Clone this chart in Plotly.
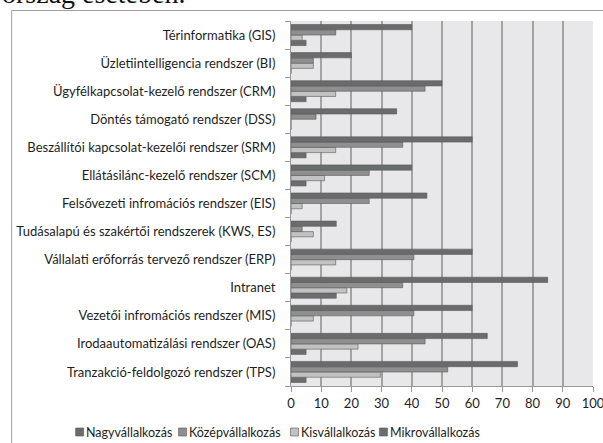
import plotly.graph_objects as go

# Categories listed bottom-to-top (Plotly category axis order)
categories = [
    "Tranzakció-feldolgozó rendszer (TPS)",
    "Irodaautomatizálási rendszer (OAS)",
    "Vezetői infromációs rendszer (MIS)",
    "Intranet",
    "Vállalati erőforrás tervező rendszer (ERP)",
    "Tudásalapú és szakértői rendszerek (KWS, ES)",
    "Felsővezeti infromációs rendszer (EIS)",
    "Ellátásilánc-kezelő rendszer (SCM)",
    "Beszállítói kapcsolat-kezelői rendszer (SRM)",
    "Döntés támogató rendszer (DSS)",
    "Ügyfélkapcsolat-kezelő rendszer (CRM)",
    "Üzletiintelligencia rendszer (BI)",
    "Térinformatika (GIS)",
]

nagy = [75, 65, 60, 85, 60, 15, 45, 40, 60, 35, 50, 20, 40]
kozep = [51.9, 44.4, 40.7, 37.0, 40.7, 3.7, 25.9, 25.9, 37.0, 8.3, 44.4, 7.4, 14.8]
kis = [29.6, 22.2, 7.4, 18.5, 14.8, 7.4, 3.7, 11.1, 14.8, 0, 14.8, 7.4, 3.7]
mikro = [5, 5, 0, 15, 0, 0, 0, 5, 5, 0, 5, 0, 5]

x_ticks = [0, 10, 20, 30, 40, 50, 60, 70, 80, 90, 100]

legend_names = ["Nagyvállalkozás", "Középvállalkozás", "Kisvállalkozás", "Mikrovállalkozás"]
colors = {"Nagyvállalkozás": "#6a6b6d", "Középvállalkozás": "#8f8f8f",
          "Kisvállalkozás": "#c2c2c2", "Mikrovállalkozás": "#6c6d70"}
values = {"Nagyvállalkozás": nagy, "Középvállalkozás": kozep,
          "Kisvállalkozás": kis, "Mikrovállalkozás": mikro}

FONT = "Lato"
TXT = "#1e1e1e"

fig = go.Figure()
# add in reverse so that Nagyvállalkozás sits at the top of each group
for name in reversed(legend_names):
    fig.add_trace(go.Bar(
        y=categories, x=values[name], name=name, orientation="h",
        marker=dict(color=colors[name], line=dict(color="#5a5a5a", width=0.6)),
        showlegend=False,
    ))

W, H = 603, 443
L, R, T, B = 290.5, 10.3, 21, 57
pw = W - L - R
ph = H - T - B

def px_x(px):
    return (px - L) / pw

def px_y(py):
    return 1 - (py - T) / ph

shapes = [dict(
    type="rect", xref="paper", yref="paper",
    x0=px_x(11), x1=px_x(640), y0=px_y(520), y1=px_y(10.5),
    line=dict(color="#a0a0a0", width=1), fillcolor="rgba(0,0,0,0)",
    layer="below",
)]
annotations = [dict(
    text="ország esetében.", xref="paper", yref="paper",
    x=px_x(-1), y=px_y(11.5), xanchor="left", yanchor="bottom",
    showarrow=False,
    font=dict(family="Liberation Serif", size=28, color="#111111"),
)]

# custom legend (single row like the reference)
legend_x = [75, 178, 290, 379]
leg_y = 432
for name, lx in zip(legend_names, legend_x):
    shapes.append(dict(
        type="rect", xref="paper", yref="paper",
        x0=px_x(lx), x1=px_x(lx + 8), y0=px_y(leg_y + 4), y1=px_y(leg_y - 4),
        line=dict(color="#555555", width=0.6), fillcolor=colors[name],
    ))
    annotations.append(dict(
        text=name, xref="paper", yref="paper",
        x=px_x(lx + 8.5), y=px_y(leg_y), xanchor="left", yanchor="middle",
        showarrow=False, font=dict(family=FONT, size=12.5, color=TXT),
    ))

fig.update_layout(
    width=W, height=H,
    margin=dict(l=L, r=R, t=T, b=B, pad=0, autoexpand=False),
    paper_bgcolor="white",
    plot_bgcolor="#e8e8ea",
    barmode="group",
    bargap=0.25,
    bargroupgap=0,
    font=dict(family=FONT, size=13, color=TXT),
    showlegend=False,
    xaxis=dict(
        range=[0, 100], tickvals=x_ticks, ticktext=[str(v) for v in x_ticks],
        showgrid=True, gridcolor="#a3a3a3", gridwidth=1.5,
        showline=True, linecolor="#9a9a9a", linewidth=1,
        ticks="outside", ticklen=5, tickcolor="#9a9a9a",
        zeroline=False, fixedrange=True, automargin=False,
        ticklabeloverflow="allow",
        tickfont=dict(family=FONT, size=13, color=TXT),
    ),
    yaxis=dict(
        type="category", categoryorder="array", categoryarray=categories,
        showline=True, linecolor="#9a9a9a", linewidth=1,
        ticks="outside", ticklen=5, tickcolor="#9a9a9a", tickson="boundaries",
        showgrid=False, zeroline=False, fixedrange=True, automargin=False,
        ticklabelstandoff=12,
        tickfont=dict(family=FONT, size=13, color=TXT),
    ),
    shapes=shapes,
    annotations=annotations,
)

fig.write_html(
    "out.html",
    config={"displayModeBar": False},
    post_script="document.body.style.margin='0';document.body.style.overflow='hidden';",
)
